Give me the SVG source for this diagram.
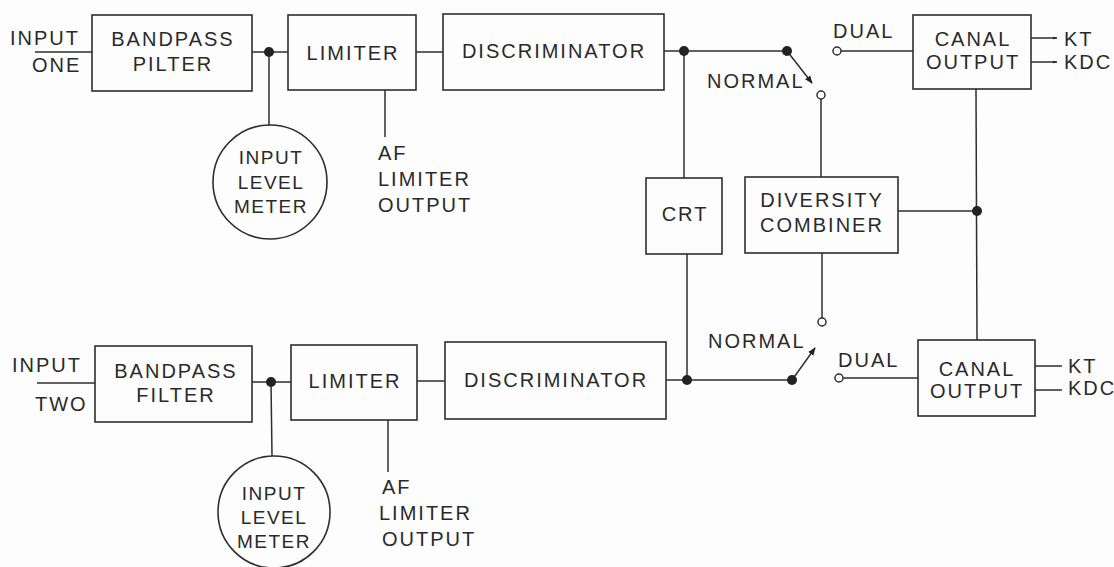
<svg xmlns="http://www.w3.org/2000/svg" width="1114" height="567" viewBox="0 0 1114 567">
<defs>
<style>
.b{fill:none;stroke:#2e2e2e;stroke-width:1.6}
.l{fill:none;stroke:#2e2e2e;stroke-width:1.5}
.t{font-family:"Liberation Sans",Arial,sans-serif;font-size:20px;letter-spacing:2px;fill:#2a2a2a}
.m{font-size:19px;letter-spacing:1.5px}
.c{text-anchor:middle}
.d{fill:#222}
.o{fill:#fff;stroke:#2e2e2e;stroke-width:1.5}
</style>
<marker id="ah" viewBox="0 0 10 10" refX="9" refY="5" markerWidth="8" markerHeight="8" orient="auto" markerUnits="userSpaceOnUse">
<path d="M0,1 L10,5 L0,9 z" fill="#222"/>
</marker>
<marker id="tk" viewBox="0 0 10 10" refX="9" refY="5" markerWidth="5" markerHeight="5" orient="auto" markerUnits="userSpaceOnUse">
<path d="M0,2 L10,5 L0,8 z" fill="#222"/>
</marker>
</defs>
<rect width="1114" height="567" fill="#fdfdfd"/>

<g id="connectors">
<line class="l" x1="35" y1="52" x2="92" y2="52"/>
<line class="l" x1="252" y1="52" x2="288" y2="52"/>
<line class="l" x1="269" y1="52" x2="269" y2="125"/>
<line class="l" x1="416" y1="52" x2="443" y2="52"/>
<line class="l" x1="385" y1="90" x2="385" y2="137"/>
<line class="l" x1="664" y1="51" x2="787" y2="51"/>
<line class="l" x1="684" y1="51" x2="684" y2="178"/>
<line class="l" x1="787" y1="51" x2="812" y2="83" marker-end="url(#ah)"/>
<line class="l" x1="821" y1="99" x2="821" y2="177"/>
<line class="l" x1="841" y1="51" x2="913" y2="51"/>
<line class="l" x1="1031" y1="38" x2="1057" y2="38" marker-end="url(#tk)"/>
<line class="l" x1="1031" y1="62" x2="1057" y2="62" marker-end="url(#tk)"/>
<line class="l" x1="976" y1="89" x2="977" y2="340"/>
<line class="l" x1="898" y1="211" x2="977" y2="211"/>
<line class="l" x1="687" y1="254" x2="687" y2="380"/>
<line class="l" x1="822" y1="253" x2="822" y2="318"/>
<line class="l" x1="37" y1="383" x2="95" y2="383"/>
<line class="l" x1="252" y1="382" x2="291" y2="382"/>
<line class="l" x1="271" y1="382" x2="272" y2="456"/>
<line class="l" x1="417" y1="381" x2="445" y2="381"/>
<line class="l" x1="388" y1="420" x2="388" y2="472"/>
<line class="l" x1="666" y1="380" x2="792" y2="380"/>
<line class="l" x1="792" y1="380" x2="815" y2="348" marker-end="url(#ah)"/>
<line class="l" x1="843" y1="378" x2="918" y2="378"/>
<line class="l" x1="1035" y1="366" x2="1062" y2="366"/>
<line class="l" x1="1035" y1="390" x2="1062" y2="390"/>
<circle class="d" cx="269" cy="52" r="5"/>
<circle class="d" cx="684" cy="51" r="5"/>
<circle class="d" cx="787" cy="51" r="5"/>
<circle class="d" cx="977" cy="211" r="5"/>
<circle class="d" cx="271" cy="382" r="5"/>
<circle class="d" cx="687" cy="380" r="5"/>
<circle class="d" cx="792" cy="380" r="5"/>
<circle class="o" cx="821" cy="95" r="4"/>
<circle class="o" cx="837" cy="51" r="4"/>
<circle class="o" cx="822" cy="322" r="4"/>
<circle class="o" cx="839" cy="378" r="4"/>
</g>

<g id="labels">
<text class="t" x="10" y="45">INPUT</text>
<text class="t" x="32" y="72">ONE</text>
<text class="t" x="12" y="372">INPUT</text>
<text class="t" x="35" y="411">TWO</text>
<text class="t" x="378" y="160">AF</text>
<text class="t" x="378" y="186">LIMITER</text>
<text class="t" x="378" y="212">OUTPUT</text>
<text class="t" x="382" y="494">AF</text>
<text class="t" x="379" y="520">LIMITER</text>
<text class="t" x="382" y="546">OUTPUT</text>
<text class="t" x="707" y="88">NORMAL</text>
<text class="t" x="708" y="348">NORMAL</text>
<text class="t" x="833" y="38">DUAL</text>
<text class="t" x="838" y="367">DUAL</text>
<text class="t" x="1064" y="46">KT</text>
<text class="t" x="1064" y="69">KDC</text>
<text class="t" x="1068" y="373">KT</text>
<text class="t" x="1068" y="395">KDC</text>
</g>

<g id="bandpass1">
<rect class="b" x="92" y="15" width="160" height="76"/>
<text class="t c" x="173" y="46">BANDPASS</text>
<text class="t c" x="173" y="71">PILTER</text>
</g>
<g id="meter1">
<circle class="b" cx="270" cy="182" r="57"/>
<text class="t m c" x="271" y="164">INPUT</text>
<text class="t m c" x="271" y="189">LEVEL</text>
<text class="t m c" x="271" y="213">METER</text>
</g>
<g id="limiter1">
<rect class="b" x="288" y="15" width="128" height="75"/>
<text class="t c" x="353" y="60">LIMITER</text>
</g>
<g id="discriminator1">
<rect class="b" x="443" y="14" width="221" height="76"/>
<text class="t c" x="554" y="58">DISCRIMINATOR</text>
</g>
<g id="canal1">
<rect class="b" x="913" y="15" width="118" height="74"/>
<text class="t c" x="973" y="46">CANAL</text>
<text class="t c" x="973" y="69">OUTPUT</text>
</g>
<g id="crt">
<rect class="b" x="646" y="178" width="76" height="76"/>
<text class="t c" x="685" y="221">CRT</text>
</g>
<g id="combiner">
<rect class="b" x="745" y="177" width="153" height="76"/>
<text class="t c" x="822" y="207">DIVERSITY</text>
<text class="t c" x="822" y="232">COMBINER</text>
</g>
<g id="bandpass2">
<rect class="b" x="95" y="346" width="157" height="76"/>
<text class="t c" x="176" y="378">BANDPASS</text>
<text class="t c" x="176" y="402">FILTER</text>
</g>
<g id="meter2">
<circle class="b" cx="274" cy="512" r="56"/>
<text class="t m c" x="274" y="500">INPUT</text>
<text class="t m c" x="274" y="524">LEVEL</text>
<text class="t m c" x="274" y="548">METER</text>
</g>
<g id="limiter2">
<rect class="b" x="291" y="345" width="126" height="75"/>
<text class="t c" x="355" y="388">LIMITER</text>
</g>
<g id="discriminator2">
<rect class="b" x="445" y="342" width="221" height="77"/>
<text class="t c" x="556" y="387">DISCRIMINATOR</text>
</g>
<g id="canal2">
<rect class="b" x="918" y="340" width="117" height="76"/>
<text class="t c" x="977" y="376">CANAL</text>
<text class="t c" x="977" y="398">OUTPUT</text>
</g>
</svg>
